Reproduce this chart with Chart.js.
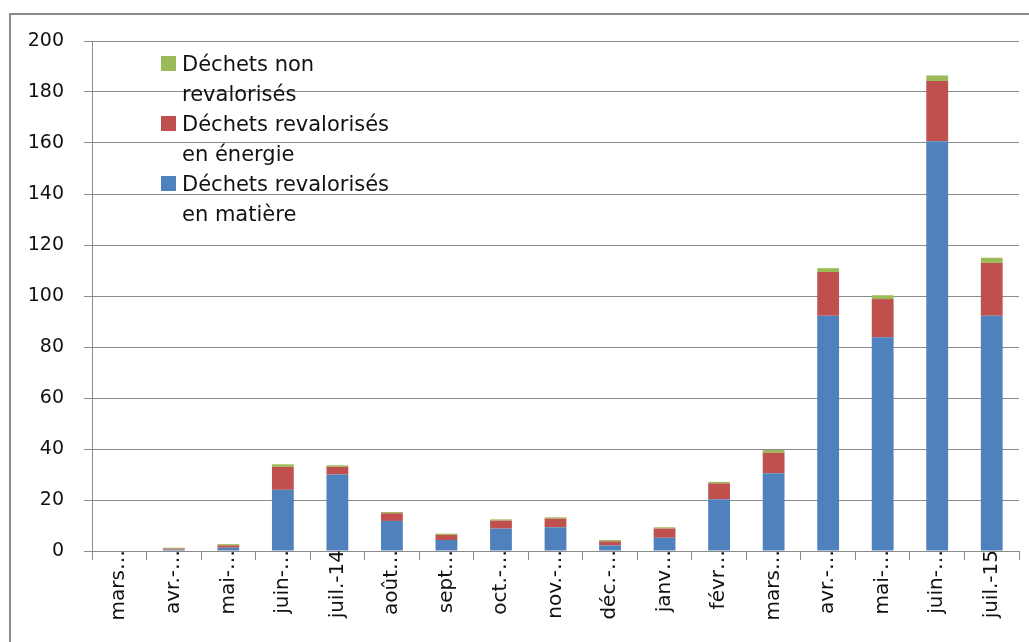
<!DOCTYPE html>
<html>
<head>
<meta charset="utf-8">
<script src="https://cdn.jsdelivr.net/npm/chart.js@4/dist/chart.umd.min.js"></script>
<style>
  html, body { margin: 0; padding: 0; background: #fff; overflow: hidden; width: 1029px; height: 642px; }
  #frame { position: absolute; left: 9px; top: 13px; width: 1100px; height: 700px; border: 2px solid #8a8a8a; box-sizing: border-box; }
  #wrap { position: absolute; left: 0; top: 0; width: 1029px; height: 700px; }
  #legend { position: absolute; left: 160px; top: 49px; font-family: "DejaVu Sans", sans-serif; font-size: 21px; line-height: 30px; color: #111; }
  .item { position: relative; padding-left: 22px; width: 215px; }
  .box { position: absolute; left: 1px; top: 7px; width: 15px; height: 15px; }
</style>
</head>
<body>
<div id="frame"></div>
<div id="wrap"><canvas id="c"></canvas></div>
<div id="legend"></div>
<script>
const categories = ["mars-14","avr.-14","mai-14","juin-14","juil.-14","août-14","sept.-14","oct.-14","nov.-14","déc.-14","janv.-15","févr.-15","mars-15","avr.-15","mai-15","juin-15","juil.-15"];
const tickLabels = ["mars…","avr.-…","mai-…","juin-…","juil.-14","août…","sept…","oct.-…","nov.-…","déc.-…","janv…","févr…","mars…","avr.-…","mai-…","juin-…","juil.-15"];
const matiere = [0, 0.5, 1.3, 24, 30, 11.8, 4.3, 8.8, 9.3, 2.2, 5.2, 20.3, 30.5, 92.3, 83.8, 160.7, 92.3];
const energie = [0, 0.4, 0.9, 9, 3, 3, 2, 3.1, 3.4, 1.6, 3.6, 6.2, 8, 17.1, 15, 23.6, 20.6];
const nonReval = [0, 0.4, 0.5, 1, 0.6, 0.5, 0.5, 0.5, 0.5, 0.5, 0.5, 0.6, 1.1, 1.5, 1.5, 2.2, 2.1];
const yTicks = [0, 20, 40, 60, 80, 100, 120, 140, 160, 180, 200];

const gridColor = '#8a8a8a';

const chart = new Chart(document.getElementById('c'), {
  type: 'bar',
  data: {
    labels: categories,
    datasets: [
      { label: 'Déchets revalorisés en matière', data: matiere, backgroundColor: '#4F81BD' },
      { label: 'Déchets revalorisés en énergie', data: energie, backgroundColor: '#C0504D' },
      { label: 'Déchets non revalorisés', data: nonReval, backgroundColor: '#9BBB59' }
    ]
  },
  options: {
    responsive: true,
    maintainAspectRatio: false,
    animation: false,
    devicePixelRatio: 1,
    layout: { padding: { top: 41, right: 10, left: 0, bottom: 0 } },
    datasets: { bar: { barPercentage: 0.4, categoryPercentage: 1.0 } },
    plugins: { legend: { display: false }, tooltip: { enabled: false } },
    scales: {
      x: {
        stacked: true,
        grid: { drawOnChartArea: false, drawTicks: true, tickLength: 9, offset: true, color: gridColor },
        border: { color: gridColor },
        ticks: {
          autoSkip: false, maxRotation: 90, minRotation: 90, padding: -10,
          font: { family: 'DejaVu Sans', size: 20 }, color: '#111',
          callback: (v, i) => tickLabels[i]
        },
        afterFit: s => { s.height = 149; }
      },
      y: {
        stacked: true,
        min: 0, max: 200,
        afterBuildTicks: s => { s.ticks = yTicks.map(v => ({ value: v })); },
        grid: { color: gridColor, tickLength: 8 },
        border: { color: gridColor },
        ticks: { padding: 20, font: { family: 'DejaVu Sans', size: 19 }, color: '#111' },
        afterFit: s => { s.width = 92; }
      }
    }
  }
});

const legend = document.getElementById('legend');
chart.data.datasets.slice().reverse().forEach(ds => {
  const it = document.createElement('div');
  it.className = 'item';
  const b = document.createElement('span');
  b.className = 'box';
  b.style.background = ds.backgroundColor;
  it.appendChild(b);
  it.appendChild(document.createTextNode(ds.label));
  legend.appendChild(it);
});
</script>
</body>
</html>
